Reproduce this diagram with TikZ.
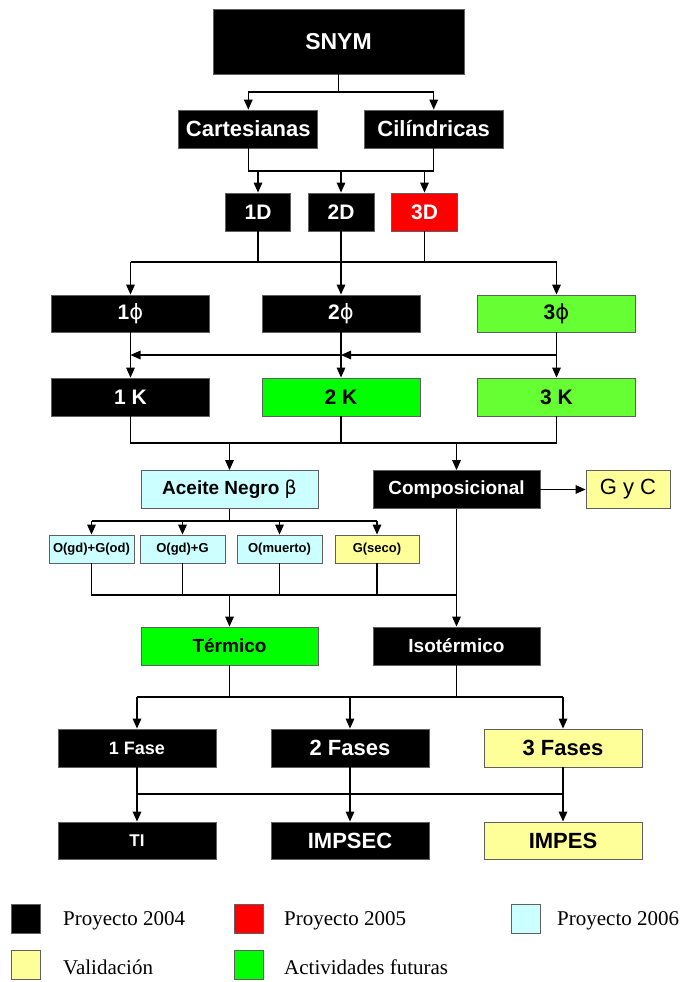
\documentclass[tikz,border=0pt]{standalone}
\usepackage{fontspec}
\setmainfont{Liberation Serif}
\setsansfont{Liberation Sans}
\newfontfamily\dejavu{DejaVu Sans}
\usetikzlibrary{arrows.meta}
\definecolor{cyanl}{HTML}{CCFFFF}
\definecolor{yell}{HTML}{FFFF99}
\definecolor{grn}{HTML}{00FF00}
\definecolor{grnl}{HTML}{66FF33}
\definecolor{redd}{HTML}{FF0000}
\definecolor{edge}{HTML}{606060}
\newcommand{\fs}[1]{\fontsize{#1}{#1}\selectfont}
\newcommand{\phisym}{{\dejavu\mdseries ϕ}}
\begin{document}
\begin{tikzpicture}[x=1pt,y=-1pt,
  bx/.style={draw=edge, line width=0.8pt, inner sep=0pt, align=center,
    font=\sffamily\bfseries},
  blk/.style={bx, fill=black, text=white},
  arr/.style={line width=1.5pt, -{Triangle[length=10pt,width=8.5pt]}},
  ln/.style={line width=1.5pt},
  leg/.style={draw=edge, line width=0.8pt, minimum width=29pt, minimum height=29pt, inner sep=0pt},
  legt/.style={anchor=west, font=\fs{21}, inner sep=0pt}]
\fill[white] (0,0) rectangle (683,982);
\useasboundingbox (0,0) rectangle (683,982);

% nodes
\node[blk, minimum width=251pt, minimum height=65pt, font=\sffamily\bfseries\fs{23}] (snym) at (338.5,41.5) {SNYM};
\node[blk, minimum width=139pt, minimum height=38pt, font=\sffamily\bfseries\fs{22}] (cart) at (248.3,129) {Cartesianas};
\node[blk, minimum width=139pt, minimum height=38pt, font=\sffamily\bfseries\fs{22}] (cil) at (433.7,129) {Cilíndricas};

\node[blk, minimum width=65pt, minimum height=38pt, font=\sffamily\bfseries\fs{21}] (d1) at (258,212) {1D};
\node[blk, minimum width=66pt, minimum height=38pt, font=\sffamily\bfseries\fs{21}] (d2) at (341,212) {2D};
\node[bx, fill=redd, text=white, minimum width=66pt, minimum height=38pt, font=\sffamily\bfseries\fs{21}] (d3) at (424.5,212) {3D};

\node[blk, minimum width=158pt, minimum height=37pt, font=\sffamily\bfseries\fs{21}] (p1) at (130.5,313.5) {1\phisym};
\node[blk, minimum width=158pt, minimum height=37pt, font=\sffamily\bfseries\fs{21}] (p2) at (341,313.5) {2\phisym};
\node[bx, fill=grnl, minimum width=158pt, minimum height=37pt, font=\sffamily\bfseries\fs{21}] (p3) at (556.5,313.5) {3\phisym};

\node[blk, minimum width=158pt, minimum height=38pt, font=\sffamily\bfseries\fs{21}] (k1) at (130.5,397) {1 K};
\node[bx, fill=grn, minimum width=158pt, minimum height=38pt, font=\sffamily\bfseries\fs{21}] (k2) at (341,397) {2 K};
\node[bx, fill=grnl, minimum width=158pt, minimum height=38pt, font=\sffamily\bfseries\fs{21}] (k3) at (556.5,397) {3 K};

\node[bx, fill=cyanl, minimum width=177pt, minimum height=38pt, font=\sffamily\bfseries\fs{19}] (acei) at (229.5,489.5) {Aceite Negro {\dejavu\mdseries β}};
\node[blk, minimum width=167pt, minimum height=38pt, font=\sffamily\bfseries\fs{19}] (comp) at (456.5,489.5) {Composicional};
\node[bx, fill=yell, minimum width=84pt, minimum height=38pt, font=\sffamily\fs{22}] (gyc) at (628,489.5) {G y C};

\node[bx, fill=cyanl, minimum width=85pt, minimum height=28pt, font=\sffamily\bfseries\fs{13}] (s1) at (91.5,549) {O(gd)+G(od)};
\node[bx, fill=cyanl, minimum width=85pt, minimum height=28pt, font=\sffamily\bfseries\fs{13}] (s2) at (182.5,549) {O(gd)+G};
\node[bx, fill=cyanl, minimum width=85pt, minimum height=28pt, font=\sffamily\bfseries\fs{13}] (s3) at (279.5,549) {O(muerto)};
\node[bx, fill=yell, minimum width=84pt, minimum height=28pt, font=\sffamily\bfseries\fs{13}] (s4) at (377,549) {G(seco)};

\node[bx, fill=grn, minimum width=177pt, minimum height=38pt, font=\sffamily\bfseries\fs{19}] (term) at (229.5,646) {Térmico};
\node[blk, minimum width=167pt, minimum height=38pt, font=\sffamily\bfseries\fs{19}] (iso) at (456.5,646) {Isotérmico};

\node[blk, minimum width=158pt, minimum height=38pt, font=\sffamily\bfseries\fs{18}] (f1) at (137,748) {1 Fase};
\node[blk, minimum width=158pt, minimum height=38pt, font=\sffamily\bfseries\fs{22}] (f2) at (350,748) {2 Fases};
\node[bx, fill=yell, minimum width=158pt, minimum height=38pt, font=\sffamily\bfseries\fs{22}] (f3) at (563,748) {3 Fases};

\node[blk, minimum width=158pt, minimum height=37pt, font=\sffamily\bfseries\fs{17}] (ti) at (137,840.5) {TI};
\node[blk, minimum width=158pt, minimum height=37pt, font=\sffamily\bfseries\fs{22}] (imp) at (350,840.5) {IMPSEC};
\node[bx, fill=yell, minimum width=158pt, minimum height=37pt, font=\sffamily\bfseries\fs{22}] (impes) at (563,840.5) {IMPES};

% junction coordinates
\coordinate (j1) at (338.5,92);
\coordinate (jd) at (341,171);
\coordinate (jp) at (341,262);
\coordinate (jc) at (556.5,355);
\coordinate (jk) at (341,443);
\coordinate (ja) at (229.5,521);
\coordinate (js) at (229.5,595);
\coordinate (jt) at (341,697);
\coordinate (jf) at (350,794);

% connectors
\draw[ln] (snym.south) -- (j1);
\draw[ln] (j1 -| cart) -- (j1 -| cil);
\draw[arr] (j1 -| cart) -- (cart.north);
\draw[arr] (j1 -| cil) -- (cil.north);

\draw[ln] (cart.south) |- (jd) -| (cil.south);
\draw[arr] (jd -| d1) -- (d1.north);
\draw[arr] (jd -| d2) -- (d2.north);
\draw[arr] (jd -| d3) -- (d3.north);

\draw[ln] (d1.south) -- (d1.south |- jp);
\draw[ln] (d2.south) -- (d2.south |- jp);
\draw[ln] (d3.south) -- (d3.south |- jp);
\draw[ln] (jp -| p1) -- (jp -| p3);
\draw[arr] (jp -| p1) -- (p1.north);
\draw[arr] (jp -| p2) -- (p2.north);
\draw[arr] (jp -| p3) -- (p3.north);

\draw[arr] (p1.south) -- (k1.north);
\draw[arr] (p2.south) -- (k2.north);
\draw[arr] (p3.south) -- (k3.north);
\draw[arr] (jc) -- (jc -| p2);
\draw[arr] (jc -| p2) -- (jc -| p1);

\draw[ln] (k1.south) |- (jk -| k3) -- (k3.south);
\draw[ln] (k2.south) -- (k2.south |- jk);
\draw[arr] (jk -| acei) -- (acei.north);
\draw[arr] (jk -| comp) -- (comp.north);

\draw[arr] (comp.east) -- (gyc.west);

\draw[ln] (acei.south) -- (ja);
\draw[ln] (ja -| s1) -- (ja -| s4);
\draw[arr] (ja -| s1) -- (s1.north);
\draw[arr] (ja -| s2) -- (s2.north);
\draw[arr] (ja -| s3) -- (s3.north);
\draw[arr] (ja -| s4) -- (s4.north);

\draw[ln] (s1.south) |- (js -| comp);
\draw[ln] (s2.south) -- (s2.south |- js);
\draw[ln] (s3.south) -- (s3.south |- js);
\draw[ln] (s4.south) -- (s4.south |- js);
\draw[arr] (js) -- (term.north);
\draw[arr] (comp.south) -- (iso.north);

\draw[ln] (term.south) -- (term.south |- jt);
\draw[ln] (iso.south) -- (iso.south |- jt);
\draw[ln] (jt -| f1) -- (jt -| f3);
\draw[arr] (jt -| f1) -- (f1.north);
\draw[arr] (jt -| f2) -- (f2.north);
\draw[arr] (jt -| f3) -- (f3.north);

\draw[arr] (f1.south) -- (ti.north);
\draw[arr] (f2.south) -- (imp.north);
\draw[arr] (f3.south) -- (impes.north);
\draw[ln] (jf -| f1) -- (jf -| f3);

% legend
\node[leg, fill=black] (l1) at (25.5,918.5) {};
\node[legt] (l1t) at (63,921) {Proyecto 2004};
\node[leg, fill=redd] (l2) at (248.5,918.5) {};
\node[legt] (l2t) at (284,921) {Proyecto 2005};
\node[leg, fill=cyanl] (l3) at (526,918.5) {};
\node[legt] (l3t) at (557,921) {Proyecto 2006};
\node[leg, fill=yell] (l4) at (25.5,964.5) {};
\node[legt] (l4t) at (63,967) {Validación};
\node[leg, fill=grn] (l5) at (248.5,964.5) {};
\node[legt] (l5t) at (284,967) {Actividades futuras};
\end{tikzpicture}
\end{document}
